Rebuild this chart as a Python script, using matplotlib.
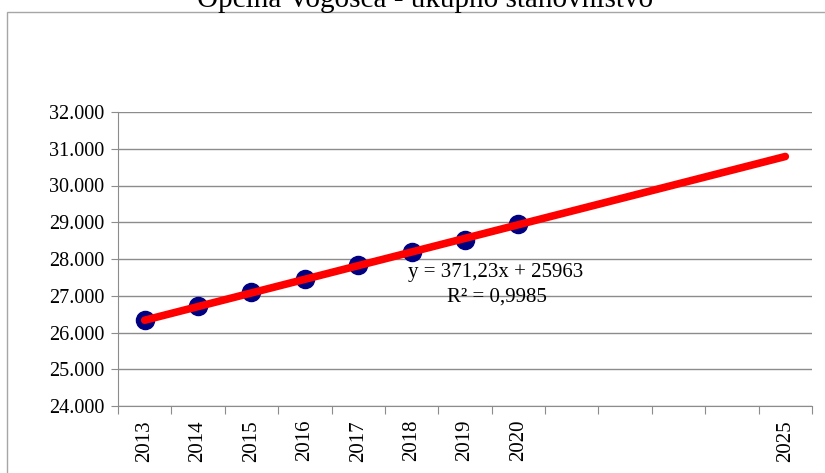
import numpy as np
import matplotlib.pyplot as plt
from matplotlib.ticker import FuncFormatter
from matplotlib.patches import Rectangle

# categories on the x axis (13 slots, only some labelled)
years = ['2013', '2014', '2015', '2016', '2017', '2018', '2019', '2020',
         '', '', '', '', '2025']
# observed population 2013-2020
population = [26350, 26720, 27090, 27450, 27830, 28180, 28530, 28960]
# linear trend shown in the chart
slope = 371.23
intercept = 25963
r2 = 0.9985

title = 'Općina Vogošća - ukupno stanovništvo'

plt.rcParams['font.family'] = ['Liberation Serif', 'DejaVu Serif']

fig = plt.figure(figsize=(8.25, 4.73), dpi=100)
W, H = 825, 473

# outer chart-area border
fig.patches.append(Rectangle((7 / W, -0.1), 1.2, 1 - 12 / H + 0.1,
                             transform=fig.transFigure, fill=False,
                             edgecolor='#a6a6a6', lw=1.0))

fig.text(425 / W, 1 - 7 / H, title, ha='center', va='baseline', fontsize=21)

ax = fig.add_axes([118 / W, 1 - 406 / H, (812 - 118) / W, (406 - 112) / H])

x_obs = np.arange(len(population))
ax.scatter(x_obs, population, s=170, color='#000080', zorder=3)

x_tr = np.array([0, len(years) - 1])
y_tr = slope * (x_tr + 1) + intercept
ax.plot(x_tr, y_tr, color='#ff0000', lw=5.5, solid_capstyle='round', zorder=4)

ax.set_xlim(-0.5, len(years) - 0.5)
ax.set_ylim(24000, 32000)
ax.set_yticks(np.arange(24000, 32001, 1000))
ax.yaxis.set_major_formatter(FuncFormatter(lambda v, p: f'{int(v):,}'.replace(',', '.')))
ax.grid(axis='y', color='#8c8c8c', lw=1.0)
ax.set_axisbelow(True)

ax.set_xticks(np.arange(-0.5, len(years), 1))
ax.set_xticklabels([])
ax.set_xticks(np.arange(len(years)), minor=True)
ax.set_xticklabels(years, minor=True, rotation=90, fontsize=15)
ax.tick_params(axis='x', which='major', length=6, color='#8c8c8c')
ax.tick_params(axis='x', which='minor', length=0, pad=10)
ax.tick_params(axis='y', length=5, color='#8c8c8c', labelsize=14.5, pad=5)

for side in ['top', 'right']:
    ax.spines[side].set_visible(False)
for side in ['left', 'bottom']:
    ax.spines[side].set_color('#8c8c8c')

# trendline label, placed in pixel-like figure coordinates
fig.text(408 / W, 1 - 273 / H, f'y = {slope:.2f}x + {intercept}'.replace('.', ','),
         fontsize=15, ha='left', va='center')
fig.text(547 / W, 1 - 297 / H, f'R² = {r2}'.replace('.', ','),
         fontsize=15, ha='right', va='center')

fig.savefig('out.png', dpi=100)
